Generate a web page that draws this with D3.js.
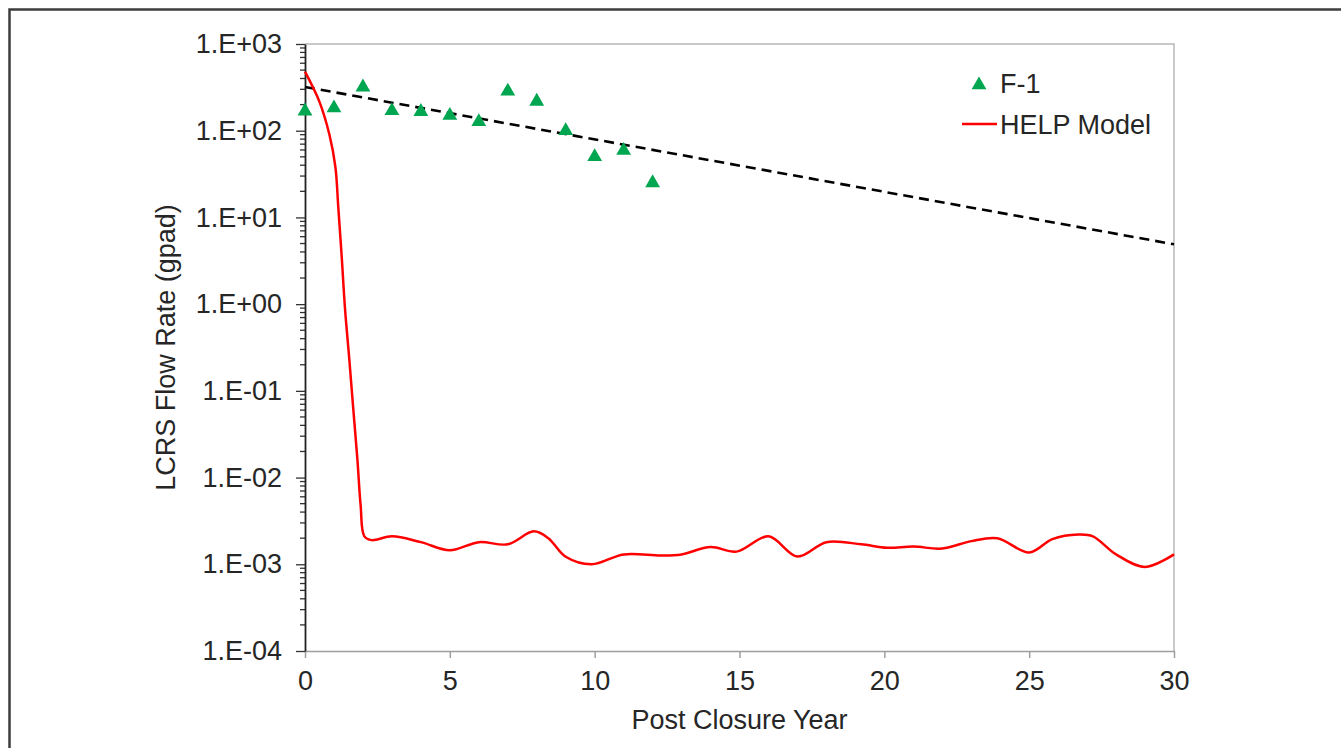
<!DOCTYPE html>
<meta charset="utf-8">
<style>
  body { margin: 0; background: #fff; }
  text { font-family: "Liberation Sans", Arial, sans-serif; fill: #262626; }
</style>
<svg width="1341" height="748"></svg>

<script src="https://cdn.jsdelivr.net/npm/d3@7/dist/d3.min.js"></script>
<script>

// F-1 measured flow (gpad)
var f1Years = [0, 1, 2, 3, 4, 5, 6, 7, 8, 9, 10, 11, 12];
var f1Flow = [168, 183, 318, 170, 166, 150, 127, 285, 218, 100, 50, 59, 25];

// exponential trend through F-1 (straight on log axis)
var trendYears = [0, 30];
var trendFlow = [320, 4.9];

// HELP model curve
var helpYears = [0, 0.5, 0.85, 1.05, 1.15, 1.27, 1.38, 1.53, 1.67, 1.81, 1.92, 2.05, 2.3,
  3, 4, 5, 6, 7, 7.9, 8.4, 9, 9.9, 11, 12.3, 13, 14, 14.9, 16, 17, 18, 19.2, 20.1, 21,
  22, 23, 23.9, 25, 25.8, 26.7, 27.2, 28, 29, 30];
var helpFlow = [480, 215, 88, 38, 13, 3.4, 0.9, 0.23, 0.06, 0.016, 0.0048, 0.0021, 0.0019,
  0.0021, 0.0018, 0.00145, 0.0018, 0.0017, 0.0024, 0.002, 0.00122, 0.001, 0.0013, 0.00126, 0.0013, 0.00158, 0.0014, 0.0021, 0.00123, 0.0018, 0.0017, 0.00155, 0.0016,
  0.00152, 0.00185, 0.002, 0.00137, 0.00195, 0.0022, 0.0021, 0.0013, 0.00093, 0.0013];

var xTicks = [0, 5, 10, 15, 20, 25, 30];
var yTicks = [1e-4, 1e-3, 1e-2, 1e-1, 1, 10, 100, 1000];
var yLabels = ["1.E-04", "1.E-03", "1.E-02", "1.E-01", "1.E+00", "1.E+01", "1.E+02", "1.E+03"];

var svg = d3.select("svg");

var x = d3.scaleLinear().domain([0, 30]).range([305, 1174]);
var y = d3.scaleLog().domain([1e-4, 1e3]).range([651, 44]);

// outer frame
svg.append("rect")
  .attr("x", 9.5).attr("y", 9.5)
  .attr("width", 1400).attr("height", 800)
  .attr("fill", "none")
  .attr("stroke", "#3d3d3d")
  .attr("stroke-width", 2.5);

// plot area border (top, right)
svg.append("path")
  .attr("d", "M" + x(0) + "," + y(1e3) + "H" + x(30) + "V" + y(1e-4))
  .attr("fill", "none")
  .attr("stroke", "#b8b8b8")
  .attr("stroke-width", 1.5);

// x axis
var xAxis = svg.append("g")
  .attr("transform", "translate(0," + y(1e-4) + ")")
  .call(d3.axisBottom(x).tickValues(xTicks).tickSize(7).tickSizeOuter(0).tickPadding(13));
xAxis.select(".domain").attr("stroke", "#9e9e9e").attr("stroke-width", 1.5);
xAxis.selectAll(".tick line").attr("stroke", "#9e9e9e").attr("stroke-width", 1.5);
xAxis.selectAll(".tick text")
  .style("font-size", "27px")
  .style("font-family", "Liberation Sans, Arial, sans-serif")
  .attr("fill", "#262626");

// y axis: minor ticks then major ticks
var minor = [];
yTicks.slice(0, -1).forEach(function(d) {
  for (var k = 2; k <= 9; k++) minor.push(d * k);
});

svg.append("g")
  .selectAll("line")
  .data(minor)
  .enter().append("line")
    .attr("x1", x(0) - 5).attr("x2", x(0))
    .attr("y1", d => y(d)).attr("y2", d => y(d))
    .attr("stroke", "#333")
    .attr("stroke-width", 1.3);

var yAxis = svg.append("g")
  .attr("transform", "translate(" + x(0) + ",0)")
  .call(d3.axisLeft(y).tickValues(yTicks).tickSize(9).tickSizeOuter(0).tickPadding(14)
    .tickFormat((d, i) => yLabels[i]));
yAxis.select(".domain").attr("stroke", "#222").attr("stroke-width", 1.8);
yAxis.selectAll(".tick line").attr("stroke", "#333").attr("stroke-width", 1.3);
yAxis.selectAll(".tick text")
  .style("font-size", "27px")
  .style("font-family", "Liberation Sans, Arial, sans-serif")
  .attr("fill", "#262626");

// axis titles
svg.append("text")
  .attr("x", 739.5).attr("y", 729)
  .attr("text-anchor", "middle")
  .style("font-size", "27px")
  .text("Post Closure Year");

svg.append("text")
  .attr("transform", "translate(175,347.5) rotate(-90)")
  .attr("text-anchor", "middle")
  .style("font-size", "27px")
  .text("LCRS Flow Rate (gpad)");

// trend line
var trend = trendYears.map((d, i) => [d, trendFlow[i]]);
svg.append("path")
  .attr("d", d3.line().x(d => x(d[0])).y(d => y(d[1]))(trend))
  .attr("fill", "none")
  .attr("stroke", "#000")
  .attr("stroke-width", 2.6)
  .attr("stroke-dasharray", "10,6");

// HELP model
var help = helpYears.map((d, i) => [d, helpFlow[i]]);
svg.append("path")
  .attr("d", d3.line().curve(d3.curveCatmullRom.alpha(0.5)).x(d => x(d[0])).y(d => y(d[1]))(help))
  .attr("fill", "none")
  .attr("stroke", "#ff0000")
  .attr("stroke-width", 2.5);

// F-1 points
var tri = d3.symbol().type(d3.symbolTriangle).size(95);
svg.append("g")
  .selectAll("path")
  .data(f1Years.map((d, i) => [d, f1Flow[i]]))
  .enter().append("path")
    .attr("d", tri)
    .attr("transform", d => "translate(" + x(d[0]) + "," + y(d[1]) + ")")
    .attr("fill", "#00a650");

// legend
svg.append("path")
  .attr("d", tri)
  .attr("transform", "translate(979,85)")
  .attr("fill", "#00a650");
svg.append("text")
  .attr("x", 1000).attr("y", 93)
  .style("font-size", "27px")
  .text("F-1");

svg.append("line")
  .attr("x1", 962).attr("x2", 997)
  .attr("y1", 124).attr("y2", 124)
  .attr("stroke", "#ff0000")
  .attr("stroke-width", 2.5);
svg.append("text")
  .attr("x", 1000).attr("y", 134)
  .style("font-size", "27px")
  .text("HELP Model");

</script>
